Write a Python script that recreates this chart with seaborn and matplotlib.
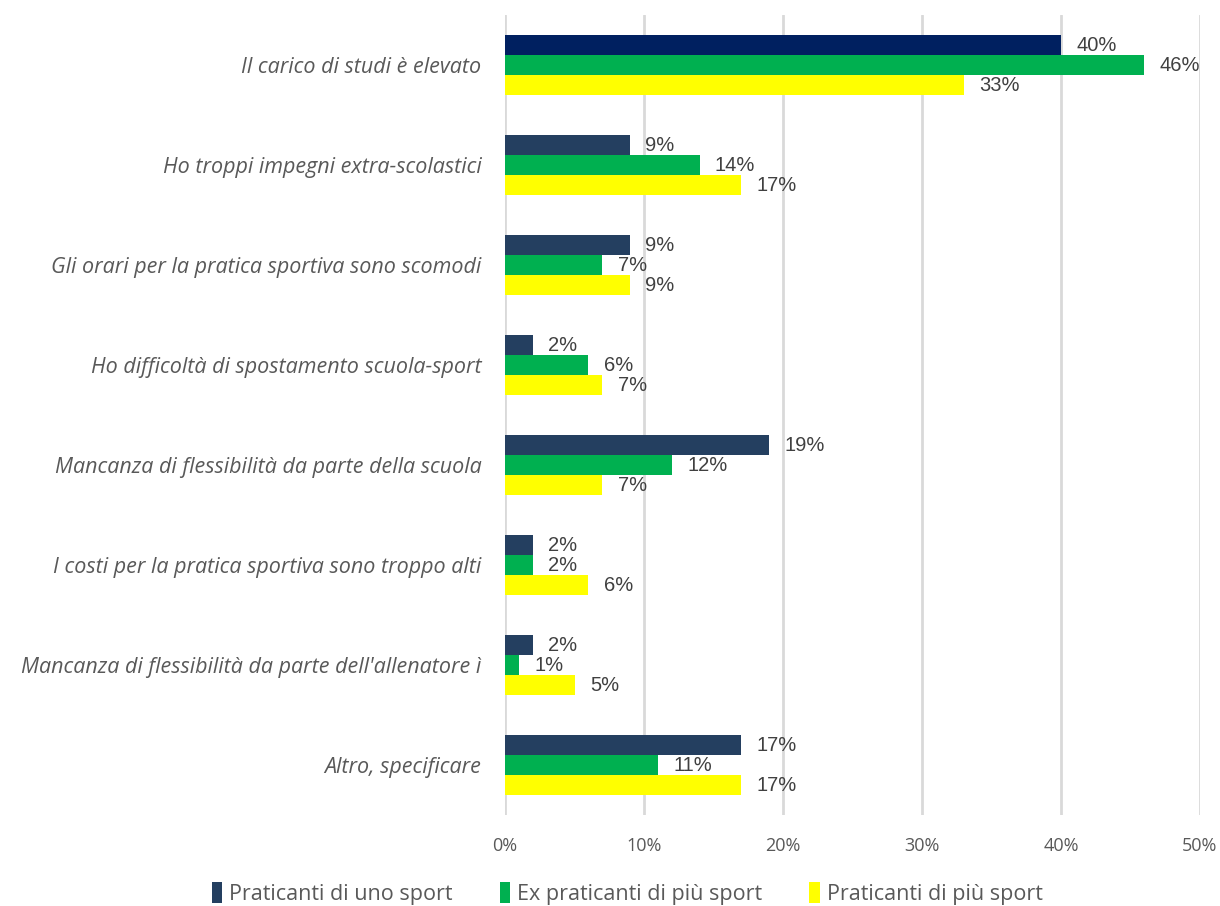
import matplotlib
matplotlib.use("Agg")
import matplotlib.pyplot as plt
import seaborn as sns
import pandas as pd
from matplotlib.ticker import PercentFormatter
from matplotlib.patches import Patch

categories = [
    "Il carico di studi è elevato",
    "Ho troppi impegni extra-scolastici",
    "Gli orari per la pratica sportiva sono scomodi",
    "Ho difficoltà di spostamento scuola-sport",
    "Mancanza di flessibilità da parte della scuola",
    "I costi per la pratica sportiva sono troppo alti",
    "Mancanza di flessibilità da parte dell'allenatore ì",
    "Altro, specificare",
]
series = ["Praticanti di uno sport", "Ex praticanti di più sport", "Praticanti di più sport"]
uno_sport = [40, 9, 9, 2, 19, 2, 2, 17]
ex_piu_sport = [46, 14, 7, 6, 12, 2, 1, 11]
piu_sport = [33, 17, 9, 7, 7, 6, 5, 17]

colors = ["#243F60", "#00B050", "#FFFF00"]

rows = []
for name, vals in zip(series, [uno_sport, ex_piu_sport, piu_sport]):
    for cat, v in zip(categories, vals):
        rows.append({"categoria": cat, "serie": name, "valore": v})
df = pd.DataFrame(rows)

sns.set_theme(style="white")
plt.rcParams["font.family"] = ["Open Sans", "DejaVu Sans"]

fig = plt.figure(figsize=(12.2, 9.06), dpi=100)
ax = fig.add_axes([0.414, 0.1004, 0.5696, 0.883])

sns.barplot(data=df, y="categoria", x="valore", hue="serie", order=categories,
            hue_order=series, palette=colors, orient="h", width=0.6,
            saturation=1, legend=False, ax=ax)

# first bar of the first series is drawn in a deeper navy
ax.containers[0].patches[0].set_facecolor("#002060")

for cont in ax.containers:
    for p in cont.patches:
        p.set_edgecolor("none")
    ax.bar_label(cont, fmt="%g%%", padding=11, fontsize=14.5, color="#404040",
                 family="Liberation Sans")

ax.set_xlim(0, 50)
ax.set_xticks(range(0, 51, 10))
ax.xaxis.set_major_formatter(PercentFormatter(decimals=0))
ax.grid(axis="x", color="#D9D9D9", linewidth=2)
ax.grid(axis="y", visible=False)
ax.set_axisbelow(True)
for s in ax.spines.values():
    s.set_visible(False)
ax.set_xlabel("")
ax.set_ylabel("")
ax.tick_params(axis="x", length=0, pad=16, labelsize=13, labelcolor="#595959")
ax.tick_params(axis="y", length=0, pad=17, labelsize=15.5, labelcolor="#595959")
for t in ax.get_yticklabels():
    t.set_fontstyle("italic")

handles = [Patch(facecolor=c, edgecolor="none") for c in colors]
fig.legend(handles, series, loc="center", bbox_to_anchor=(0.514, 0.014), ncol=3,
           frameon=False, fontsize=15.5, handlelength=0.5, handleheight=1.1,
           handletextpad=0.3, columnspacing=2.2, labelcolor="#595959")

fig.savefig("out.png", dpi=100)
